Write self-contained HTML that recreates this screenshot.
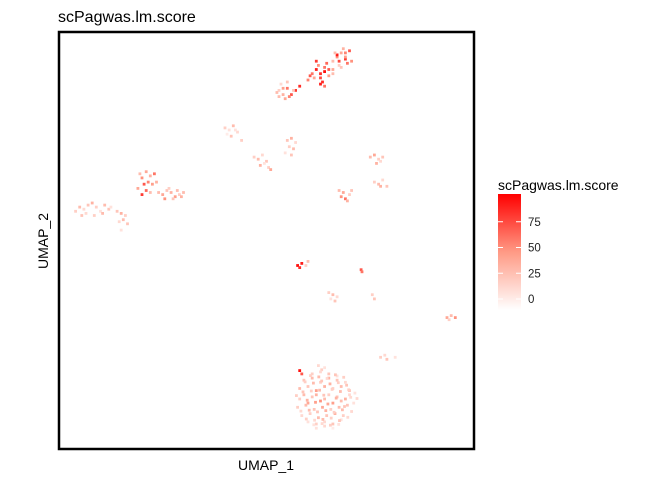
<!DOCTYPE html>
<html><head><meta charset="utf-8"><style>
body{margin:0;background:#fff}
svg{display:block;font-family:"Liberation Sans",sans-serif}
</style></head><body>
<svg id="chart" width="672" height="480">
<text x="58" y="22" font-size="16" fill="#000">scPagwas.lm.score</text>
<g id="pts"></g>
<rect x="59" y="32" width="415" height="417" fill="none" stroke="#000" stroke-width="2.5"/>
<text x="266" y="470" font-size="14" text-anchor="middle">UMAP_1</text>
<text x="0" y="0" font-size="14" text-anchor="middle" transform="translate(48,241) rotate(-90)">UMAP_2</text>
<text x="498" y="190" font-size="14">scPagwas.lm.score</text>
<defs><linearGradient id="lg" x1="0" y1="1" x2="0" y2="0"><stop offset="0" stop-color="#ffffff"/><stop offset="0.5" stop-color="#ff9a85"/><stop offset="1" stop-color="#ff0000"/></linearGradient></defs>
<rect x="498" y="194" width="23" height="116" fill="url(#lg)"/>
<g id="leg"></g>
</svg>
<script>
const xs=[53,54,55,53.5,54.5,56,55,57,58,53,61,62,63,64,62.5,63.5,65,61.5,64.5,66,60,62,63,65,64,66,67,68,69,70,67.5,68.5,69.5,67,68,69,66.5,70.5,
52.5,54,56.5,55.5,60.5,63,64,66,67.5,69,
40,41,42,43,40.5,41.5,42.5,44,
47,48,49,50,48.5,49.5,50.5,51,
55,56,57,55.5,56.5,54.5,56,
75,76,77,78,76.5,77.5,
76,77,78,79,77.5,
67.5,68.5,69,70,69.5,70.5,68,
4,5,6,7,8,9,10,11,12,6.5,8.5,10.5,12.5,5.5,
14,15,16,15.5,14.5,16.5,15,
19.5,20,21,22,23,20.5,21.5,22.5,19,23.5,20,22,21,
24,25,26,27,28,29,30,25.5,27.5,29.5,26.5,28.5,
57.5,58.5,58,60,59.5,72.8,73,
65,66,67,66.5,65.5,75.5,76,
93.5,94.5,95.5,94,77.5,78.5,79,81,
62.5,63.3,64,58,58.5,
58,59,60,61,62,63,64,65,66,67,68,69,70,57.5,59.5,61.5,63.5,65.5,67.5,69.5,71,58,60,62,64,66,68,70,58.5,60.5,62.5,64.5,66.5,68.5,70.5,59,61,63,65,67,69,60,62,64,66,68,61,63,65,67,62,64,66,
58.8,59.8,60.8,61.8,62.8,63.8,64.8,65.8,66.8,67.8,68.8,69.8,58.3,60.3,62.3,64.3,66.3,68.3,70.3,59.3,61.3,63.3,65.3,67.3,69.3,71.3,59.6,61.6,63.6,65.6,67.6,69.6,60.6,62.6,64.6,66.6,68.6,61.4,63.4,65.4,67.4,57.2,71.8];
const ys=[86,85,86.5,87.5,84,85,88,86,87,84.5,90,91,89,90.5,92,88,91,89,92.5,90,88.5,93,87.5,89.5,87,93,94,95,93.5,95.5,92,96,92.5,94.5,91.5,94,95,93,
85.5,86.5,86,84.5,89.5,90,91.5,91,93,95,
77,76.5,77.5,76,75.5,75,76.5,74,
70,69.5,70.5,69,68,68.5,67.5,67,
74,74.5,73.5,72.5,72,71,70.5,
70,70.5,69.5,70,68.5,69,
64,63.5,64.5,63,63,
62,61.5,60,61,59.5,62,60.5,
57,58,57.5,58.5,59,58,57,58.5,57.5,56.5,56,56.5,58,56,
57,56.5,56,55,54.5,54,52.5,
66,65,66.5,65.5,66,63.5,64,63.5,62.5,64,61,61.5,62,
61.5,61,62,61.5,60.5,61,61.5,60,60,60.5,62.5,62,
44,44.5,43.5,45,44,43,42.5,
37.5,37,36.5,35.5,36,37,36,
31.5,32,31.5,31,22,22.5,21.5,22,
20,19,19.5,18.8,18,
12,13,11,12.5,13,11.5,12,13,11,12.5,11.5,12,13,10,10.5,9.5,10,9.5,10,10.5,11,14.5,15,14,15,14.5,15,14,8,8.5,7.5,8,8.5,8,9,16.5,17,16,17,16.5,16,6.5,6,6.5,6,7,18,18.5,18,17.5,5,5.5,5,
13.7,11.7,13.9,11.2,14.1,12.9,10.8,14.3,12.2,13.8,10.2,14.2,9.1,9.3,8.9,9.2,8.8,9.4,12.4,16.1,15.8,16.3,15.6,15.9,15.3,13.4,7.2,6.9,7.1,7.4,6.8,7.6,17.6,17.3,16.9,17.8,17.2,5.8,6.1,5.7,5.9,12.8,12.1];
const scores=[20,35,60,15,40,70,25,80,85,30,60,90,75,95,50,85,70,40,65,30,55,80,90,45,60,30,50,40,80,70,20,35,60,90,25,45,30,50,
30,45,25,55,70,85,60,40,75,55,
20,10,30,15,5,25,10,20,
20,30,15,25,35,10,20,40,
25,35,15,20,30,10,25,
30,40,20,25,35,15,
20,30,15,25,35,
30,40,60,20,35,25,50,
20,30,15,25,35,20,10,30,25,15,20,30,10,25,
25,35,20,30,15,25,10,
30,50,40,35,60,70,55,45,40,35,80,30,65,
30,40,25,35,45,20,30,50,25,35,20,30,
95,90,85,30,20,70,60,
20,30,15,25,10,20,25,
40,30,50,20,20,15,25,10,
15,20,10,95,70,
20,30,40,25,35,50,30,20,45,25,30,35,15,20,30,25,40,20,30,25,10,30,25,45,35,20,30,25,15,20,30,25,35,20,15,25,30,20,35,25,15,10,20,15,25,10,20,15,25,10,10,15,5,
25,35,20,45,30,25,40,20,35,30,25,20,15,30,25,35,20,30,15,20,30,25,35,20,25,10,20,15,30,20,25,15,20,30,15,25,20,10,15,20,10,20,15];
const legendTicks=[0,25,50,75];
const NS='http://www.w3.org/2000/svg';
const sx=v=>59+v*4.15, sy=v=>449-v*4.17;
const col=v=>{const t=Math.max(0,Math.min(1,(v+5)/105));
  let r,g,b;
  if(t<0.5){const u=t/0.5;r=255;g=Math.round(255-(255-154)*u);b=Math.round(255-(255-133)*u);}
  else{const u=(t-0.5)/0.5;r=255;g=Math.round(154*(1-u));b=Math.round(133*(1-u));}
  return `rgb(${r},${g},${b})`;};
const pts=document.getElementById('pts');
for(let i=0;i<xs.length;i++){
  const r=document.createElementNS(NS,'rect');
  r.setAttribute('x',(sx(xs[i])-1.4).toFixed(1));
  r.setAttribute('y',(sy(ys[i])-1.4).toFixed(1));
  r.setAttribute('width',2.8);r.setAttribute('height',2.8);
  r.setAttribute('fill',col(scores[i]));
  
  
  pts.appendChild(r);
}
const leg=document.getElementById('leg');
const ly=v=>299-v*1.03;
legendTicks.forEach(v=>{
  const y=ly(v);
  [[498,503],[516,521]].forEach(([a,b])=>{
    const l=document.createElementNS(NS,'line');
    l.setAttribute('x1',a);l.setAttribute('x2',b);l.setAttribute('y1',y);l.setAttribute('y2',y);
    l.setAttribute('stroke','#fff');l.setAttribute('stroke-width','1');
    
    
    leg.appendChild(l);
  });
  const t=document.createElementNS(NS,'text');
  t.setAttribute('x',528);t.setAttribute('y',y+4);t.setAttribute('font-size','11.5');t.setAttribute('fill','#222');
  t.textContent=v;
  
  
  leg.appendChild(t);
});
</script>
</body></html>
